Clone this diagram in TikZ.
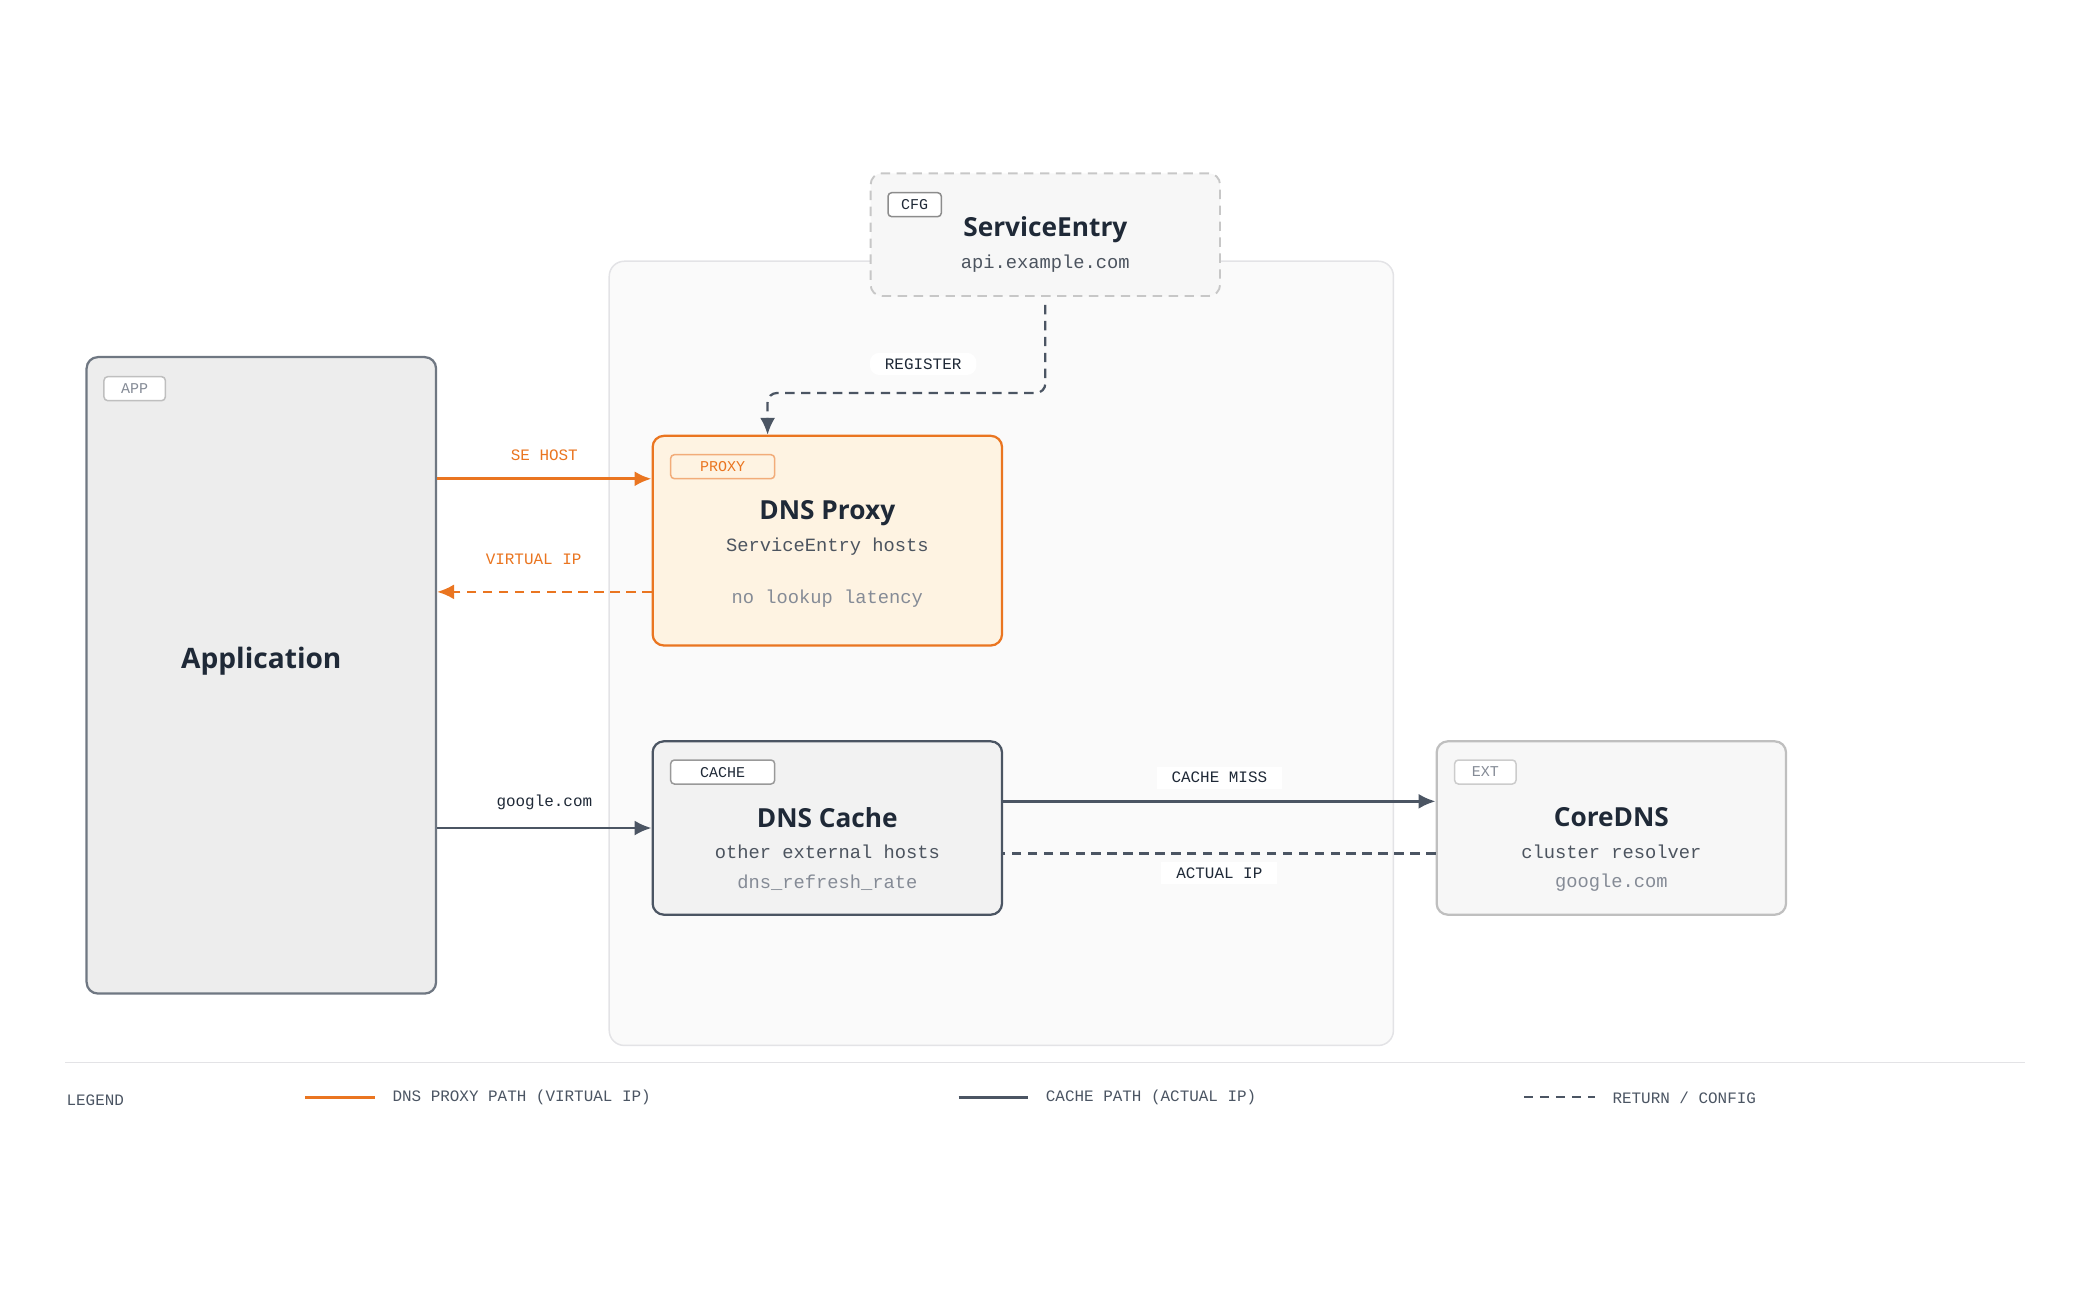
\documentclass[tikz,border=0pt]{standalone}
\usepackage{fontspec}
\setmainfont{Open Sans}
\newfontfamily\monofont{Liberation Mono}
\usetikzlibrary{arrows.meta,positioning}
\definecolor{ink}{HTML}{1F2937}
\definecolor{slate}{HTML}{4B5563}
\definecolor{muted}{HTML}{858B96}
\definecolor{orng}{HTML}{EA7520}
\definecolor{peach}{HTML}{FEF3E2}
\definecolor{rim}{HTML}{E3E3E6}
\tikzset{
  box/.style   = {draw, rounded corners=6pt, line width=1.2pt, minimum width=6.55cm},
  tag/.style   = {draw, rounded corners=2pt, line width=0.8pt, font=\monofont\fontsize{8}{9}\selectfont,
                  inner sep=0pt, minimum height=0.45cm, text depth=0pt},
  title/.style = {font=\fontsize{14}{16}\selectfont\bfseries, text=ink},
  sub/.style   = {font=\monofont\fontsize{10}{12}\selectfont, text=ink!80},
  note/.style  = {font=\monofont\fontsize{10}{12}\selectfont, text=muted},
  lbl/.style   = {font=\monofont\fontsize{8.5}{10}\selectfont, fill=white, inner xsep=8pt, inner ysep=3pt},
  leg/.style   = {font=\monofont\fontsize{8.5}{10}\selectfont, text=slate, anchor=west},
  dashline/.style = {dash pattern=on 5pt off 3.5pt}
}
\begin{document}
\begin{tikzpicture}[x=0.025cm, y=-0.025cm, >={Latex[length=9pt,width=8pt]}]
\useasboundingbox (0,0) rectangle (1560,976.5);

% cluster area
\node[draw=rim, fill=black!2, rounded corners=8pt, line width=0.8pt,
      minimum width=14.7cm, minimum height=14.7cm] (mesh) at (751,490) {};

% boxes
\node[box, draw=black!22, fill=black!3, dashline, line width=1pt, minimum height=2.3cm] (se) at (784,176) {};
\node[box, draw=slate!80, fill=black!7, minimum height=11.93cm] (app) at (196,506.5) {};
\node[box, draw=orng, fill=peach, minimum height=3.93cm] (proxy) at (620.5,405.5) {};
\node[box, draw=slate, fill=black!5, minimum height=3.25cm] (cache) at (620.5,621) {};
\node[box, draw=black!25, fill=black!3, minimum height=3.25cm] (core) at (1208.5,621) {};

% tags
\node[tag, draw=black!45, fill=white, text=ink, minimum width=1cm] (cfg) at (686,153.5) {CFG};
\node[tag, draw=black!25, fill=white, text=muted, minimum width=1.15cm] (apptag) at (101,291.5) {APP};
\node[tag, draw=orng!60, fill=peach, text=orng, minimum width=1.95cm] (ptag) at (542,350) {PROXY};
\node[tag, draw=black!40, fill=white, text=ink, minimum width=1.95cm] (ctag) at (542,579) {CACHE};
\node[tag, draw=black!20, fill=white, text=muted, minimum width=1.15cm] (etag) at (1114,579) {EXT};

% texts
\node[title] (setitle) at (784,172) {ServiceEntry};
\node[sub] (sesub) at (784,198) {api.example.com};
\node[title, font=\fontsize{15}{17}\selectfont\bfseries] (apptitle) at (196,496) {Application};
\node[title] (ptitle) at (620.5,385) {DNS Proxy};
\node[sub] (psub) at (620.5,410) {ServiceEntry hosts};
\node[note] (pnote) at (620.5,449) {no lookup latency};
\node[title] (ctitle) at (620.5,613) {DNS Cache};
\node[sub] (csub) at (620.5,639) {other external hosts};
\node[note] (cnote) at (620.5,662) {dns\_refresh\_rate};
\node[title] (etitle) at (1208.5,613) {CoreDNS};
\node[sub] (esub) at (1208.5,639) {cluster resolver};
\node[note] (enote) at (1208.5,662) {google.com};

% connectors
\draw[->, orng, line width=1.6pt] ([yshift=1.16cm]proxy.west -| app.east) -- ([yshift=1.16cm]proxy.west)
  node[lbl, text=orng, midway, above=6pt] {SE HOST};
\draw[->, orng, line width=1.2pt, dashline] ([yshift=-0.96cm]proxy.west) -- ([yshift=-0.96cm]proxy.west -| app.east)
  node[lbl, text=orng, pos=0.55, above=11pt] {VIRTUAL IP};
\draw[->, slate, line width=1.4pt] (app.east |- cache.west) -- (cache.west)
  node[lbl, text=ink, midway, above=6pt] {google.com};
\draw[->, slate, line width=1.4pt] ([yshift=0.5cm]cache.east) -- ([yshift=0.5cm]core.west)
  node[lbl, text=ink, midway, above=6pt] {CACHE MISS};
\draw[slate, line width=1.2pt, dashline] ([yshift=-0.48cm]core.west) -- ([yshift=-0.48cm]cache.east)
  node[lbl, text=ink, midway, below=4pt] {ACTUAL IP};
\draw[->, slate, line width=1.2pt, dashline, rounded corners=5pt] ([yshift=-0.15cm]se.south) -- ++(0,66) -| ([xshift=-1.12cm]proxy.north)
  node[lbl, text=ink, pos=0.22, above=9pt] {REGISTER};

% legend
\draw[rim, line width=0.8pt] (49,797) coordinate (l0) -- (1519,797) coordinate (l1);
\node[leg] (legend) at (45,825) {LEGEND};
\coordinate (o1) at (229,823); \coordinate (o2) at (281,823);
\coordinate (s1) at (719,823); \coordinate (s2) at (771,823);
\coordinate (d1) at (1143,823); \coordinate (d2) at (1196,823);
\draw[orng, line width=1.6pt] (o1) -- (o2);
\draw[slate, line width=1.6pt] (s1) -- (s2);
\draw[slate, line width=1.2pt, dashline] (d1) -- (d2);
\node[leg, right=6pt of o2] (lo) {DNS PROXY PATH (VIRTUAL IP)};
\node[leg, right=6pt of s2] (ls) {CACHE PATH (ACTUAL IP)};
\node[leg, right=6pt of d2] (ld) {RETURN / CONFIG};
\end{tikzpicture}
\end{document}
